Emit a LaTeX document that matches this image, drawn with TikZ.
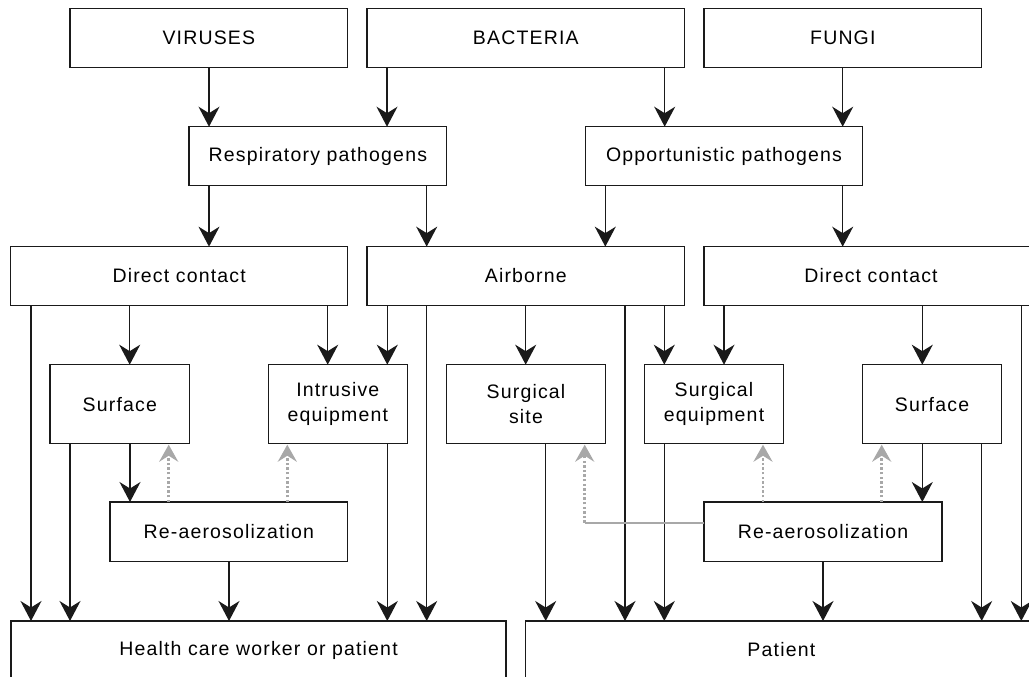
\documentclass[tikz,border=0pt]{standalone}
\usepackage{fontspec}
\setmainfont{Liberation Sans}[LetterSpace=6]
\usetikzlibrary{arrows.meta}
\definecolor{ln}{HTML}{1A1A1A}
\definecolor{gr}{HTML}{A8A8A8}
\begin{document}
\begin{tikzpicture}[x=1pt,y=-1pt,
  box/.style={draw=ln, line width=1.5pt, fill=white, inner sep=0pt, outer sep=0pt,
    align=center, font=\fontsize{19.5}{25}\selectfont, text=black},
  arr/.style={draw=ln, line width=1.5pt, -{Stealth[length=20pt,width=21pt,inset=6.5pt]}},
  garr/.style={draw=gr, line width=2.6pt, dash pattern=on 2.4pt off 2.2pt,
    -{Stealth[length=17pt,width=19pt,inset=6pt,sep=1pt]}},
  gline/.style={draw=gr, line width=2.2pt}]
\useasboundingbox (0,0) rectangle (1029,677);
\clip (0,0) rectangle (1029,677);
\fill[white] (0,0) rectangle (1029,677);
% row 1
\node[box, minimum width=277.7pt, minimum height=59.4pt] (vir) at (208.85,38) {VIRUSES};
\node[box, minimum width=317.7pt, minimum height=59.4pt] (bac) at (525.85,38) {BACTERIA};
\node[box, minimum width=277.7pt, minimum height=59.4pt] (fun) at (842.85,38) {FUNGI};
% row 2
\node[box, minimum width=257.7pt, minimum height=59pt] (resp) at (317.85,156.2) {Respiratory pathogens};
\node[box, minimum width=277.4pt, minimum height=59pt] (opp) at (724,156.2) {Opportunistic pathogens};
% row 3
\node[box, minimum width=337pt, minimum height=58.7pt] (dcl) at (179.2,276) {Direct contact};
\node[box, minimum width=317.7pt, minimum height=58.7pt] (air) at (525.85,276) {Airborne};
\node[box, minimum width=334pt, minimum height=58.7pt] (dcr) at (871,276) {Direct contact};
% row 4
\node[box, minimum width=139.7pt, minimum height=79pt] (surfL) at (119.85,404.2) {Surface};
\node[box, minimum width=139pt, minimum height=79pt] (intr) at (337.8,404.2) {Intrusive\\equipment};
\node[box, minimum width=159.4pt, minimum height=79pt] (ssite) at (526,404.2) {Surgical\\site};
\node[box, minimum width=139.4pt, minimum height=79pt] (sequip) at (714,404.2) {Surgical\\equipment};
\node[box, minimum width=139.4pt, minimum height=79pt] (surfR) at (932,404.2) {Surface};
% row 5
\node[box, minimum width=237.7pt, minimum height=59.7pt] (reaL) at (228.85,531.85) {Re-aerosolization};
\node[box, minimum width=238pt, minimum height=59.7pt] (reaR) at (823,531.85) {Re-aerosolization};
% row 6
\node[box, minimum width=495pt, minimum height=58pt] (hcw) at (258.5,650) {Health care worker or patient};
\node[box, minimum width=511.3pt, minimum height=58pt] (pat) at (781.35,650) {Patient};
% connectors
\draw[arr] (vir.south -| 209,0) -- (resp.north -| 209,0);
\draw[arr] (bac.south -| 387,0) -- (resp.north -| 387,0);
\draw[arr] (bac.south -| 664.7,0) -- (opp.north -| 664.7,0);
\draw[arr] (fun.south -| 842.7,0) -- (opp.north -| 842.7,0);
\draw[arr] (resp.south -| 209,0) -- (dcl.north -| 209,0);
\draw[arr] (resp.south -| 426.7,0) -- (air.north -| 426.7,0);
\draw[arr] (opp.south -| 605.3,0) -- (air.north -| 605.3,0);
\draw[arr] (opp.south -| 842.7,0) -- (dcr.north -| 842.7,0);
\draw[arr] (dcl.south -| 31,0) -- (hcw.north -| 31,0);
\draw[arr] (dcl.south -| 129.7,0) -- (surfL.north -| 129.7,0);
\draw[arr] (dcl.south -| 327.7,0) -- (intr.north -| 327.7,0);
\draw[arr] (air.south -| 387.3,0) -- (intr.north -| 387.3,0);
\draw[arr] (air.south -| 426.7,0) -- (hcw.north -| 426.7,0);
\draw[arr] (air.south -| 525.7,0) -- (ssite.north -| 525.7,0);
\draw[arr] (air.south -| 625,0) -- (pat.north -| 625,0);
\draw[arr] (air.south -| 664.3,0) -- (sequip.north -| 664.3,0);
\draw[arr] (dcr.south -| 724,0) -- (sequip.north -| 724,0);
\draw[arr] (dcr.south -| 922.3,0) -- (surfR.north -| 922.3,0);
\draw[arr] (dcr.south -| 1021.3,0) -- (pat.north -| 1021.3,0);
\draw[arr] (surfL.south -| 70,0) -- (hcw.north -| 70,0);
\draw[arr] (surfL.south -| 130,0) -- (reaL.north -| 130,0);
\draw[arr] (intr.south -| 387.3,0) -- (hcw.north -| 387.3,0);
\draw[arr] (reaL.south -| 229,0) -- (hcw.north -| 229,0);
\draw[arr] (ssite.south -| 545.7,0) -- (pat.north -| 545.7,0);
\draw[arr] (sequip.south -| 664.3,0) -- (pat.north -| 664.3,0);
\draw[arr] (surfR.south -| 922.3,0) -- (reaR.north -| 922.3,0);
\draw[arr] (surfR.south -| 981.7,0) -- (pat.north -| 981.7,0);
\draw[arr] (reaR.south -| 823,0) -- (pat.north -| 823,0);
% grey re-aerosolization feedback
\draw[garr] (reaL.north -| 168.7,0) -- (surfL.south -| 168.7,0);
\draw[garr] (reaL.north -| 287.3,0) -- (intr.south -| 287.3,0);
\draw[garr] (reaR.north -| 763,0) -- (sequip.south -| 763,0);
\draw[garr] (reaR.north -| 881.7,0) -- (surfR.south -| 881.7,0);
\coordinate (gc) at (584.7,522.7);
\draw[gline] (reaR.west |- gc) -- (gc);
\draw[garr] (gc) -- (ssite.south -| gc);
\end{tikzpicture}
\end{document}
